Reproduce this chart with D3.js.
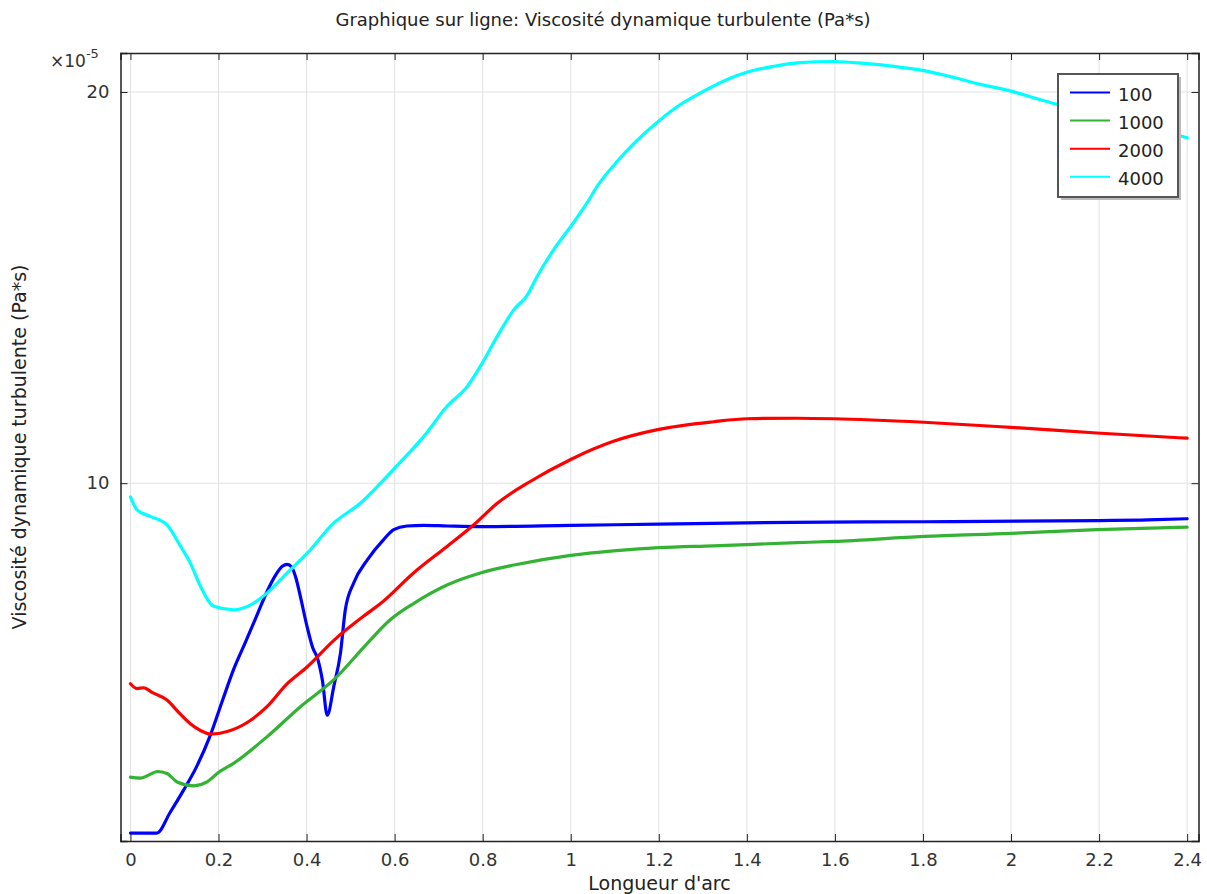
<!DOCTYPE html>
<html lang="fr">
<head>
<meta charset="UTF-8">
<title>Viscosité dynamique turbulente</title>
<style>
  body { margin: 0; background: #fff; }
  svg { display: block; }
  text { font-family: 'DejaVu Sans', sans-serif; fill: #222; }
  .grid line { stroke: #e2e2e2; stroke-width: 1; }
  .axis path, .axis line { stroke: #222; }
  .axis text { font-size: 18px; fill: #333; font-family: 'DejaVu Sans', sans-serif; }
  .series { fill: none; stroke-width: 3.2; stroke-linejoin: round; stroke-linecap: round; }
</style>
</head>
<body>
<svg id="chart" width="1207" height="894"></svg>
<script src="https://d3js.org/d3.v7.min.js"></script>
<script>
// arc length (m) and turbulent viscosity (x1e-5 Pa*s)
const seriesNames = ["100", "1000", "2000", "4000"];
const seriesColors = ["#0000ff", "#33b233", "#ff0000", "#00ffff"];

const blue = [
  [0, 5.38], [0.03, 5.38], [0.06, 5.38], [0.09, 5.58], [0.12, 5.80], [0.15, 6.05], [0.18, 6.38],
  [0.21, 6.82], [0.235, 7.20], [0.26, 7.53], [0.285, 7.88], [0.31, 8.25], [0.33, 8.50],
  [0.345, 8.63], [0.356, 8.66], [0.366, 8.62], [0.376, 8.45], [0.386, 8.18], [0.401, 7.76],
  [0.414, 7.47], [0.425, 7.33], [0.436, 7.05], [0.447, 6.63], [0.462, 6.98], [0.477, 7.40],
  [0.488, 7.99], [0.507, 8.38], [0.538, 8.73], [0.575, 9.05], [0.598, 9.21], [0.628, 9.27],
  [0.666, 9.28], [0.72, 9.27], [0.80, 9.26], [1.0, 9.28], [1.2, 9.30], [1.5, 9.33],
  [1.8, 9.34], [2.2, 9.36], [2.31, 9.37], [2.4, 9.39]
];
const green = [
  [0, 5.94], [0.023, 5.93], [0.045, 5.97], [0.061, 6.00], [0.083, 5.98], [0.106, 5.89],
  [0.144, 5.85], [0.174, 5.89], [0.197, 5.98], [0.235, 6.09], [0.31, 6.38], [0.386, 6.73],
  [0.462, 7.06], [0.538, 7.53], [0.59, 7.85], [0.643, 8.08], [0.719, 8.35], [0.795, 8.53],
  [0.871, 8.65], [1.0, 8.80], [1.097, 8.87], [1.2, 8.92], [1.324, 8.95], [1.514, 9.00],
  [1.597, 9.02], [1.802, 9.10], [2.0, 9.15], [2.195, 9.21], [2.4, 9.25]
];
const red = [
  [0, 7.01], [0.015, 6.95], [0.03, 6.96], [0.05, 6.90], [0.083, 6.81], [0.11, 6.66],
  [0.136, 6.53], [0.16, 6.45], [0.182, 6.41], [0.22, 6.44], [0.273, 6.57], [0.31, 6.73],
  [0.356, 7.01], [0.401, 7.22], [0.462, 7.57], [0.538, 7.94], [0.568, 8.08], [0.643, 8.53],
  [0.719, 8.94], [0.78, 9.29], [0.833, 9.65], [0.908, 10.03], [1.0, 10.43], [1.097, 10.77],
  [1.2, 11.00], [1.324, 11.15], [1.4, 11.21], [1.514, 11.22], [1.597, 11.21], [1.802, 11.14],
  [2.0, 11.04], [2.195, 10.93], [2.4, 10.83]
];
const cyan = [
  [0, 9.76], [0.015, 9.54], [0.045, 9.43], [0.083, 9.29], [0.114, 8.94], [0.136, 8.68],
  [0.159, 8.33], [0.189, 8.04], [0.235, 7.99], [0.273, 8.06], [0.31, 8.23], [0.356, 8.53],
  [0.401, 8.83], [0.462, 9.32], [0.522, 9.65], [0.568, 10.0], [0.621, 10.45], [0.666, 10.86],
  [0.719, 11.46], [0.765, 11.87], [0.799, 12.37], [0.833, 12.97], [0.871, 13.60], [0.901, 13.95],
  [0.924, 14.43], [0.961, 15.12], [1.0, 15.76], [1.037, 16.43], [1.06, 16.92], [1.097, 17.55],
  [1.143, 18.25], [1.2, 19.00], [1.249, 19.56], [1.302, 20.03], [1.355, 20.45], [1.4, 20.71],
  [1.461, 20.93], [1.514, 21.06], [1.597, 21.11], [1.673, 21.03], [1.734, 20.93], [1.802, 20.77],
  [1.87, 20.52], [1.93, 20.27], [2.0, 20.03], [2.059, 19.76], [2.105, 19.56], [2.203, 19.18],
  [2.317, 18.77], [2.4, 18.44]
];
const seriesData = [blue, green, red, cyan];

const xTicks = [0, 0.2, 0.4, 0.6, 0.8, 1, 1.2, 1.4, 1.6, 1.8, 2, 2.2, 2.4];
const yTicks = [10, 20];

const svg = d3.select("#chart");
const plotL = 120.5, plotR = 1198.5, plotT = 53, plotB = 841;

const x = d3.scaleLinear().domain([-0.0226, 2.4258]).range([plotL, plotR]);
const y = d3.scaleLog().domain([5.305, 21.43]).range([plotB, plotT]);

// title
svg.append("text")
  .attr("x", 603).attr("y", 26)
  .attr("text-anchor", "middle")
  .style("font-size", "18px")
  .text("Graphique sur ligne: Viscosité dynamique turbulente (Pa*s)");

// grid
const grid = svg.append("g").attr("class", "grid");
grid.selectAll(".gx").data(xTicks).enter().append("line")
  .attr("x1", d => x(d)).attr("x2", d => x(d))
  .attr("y1", plotT).attr("y2", plotB);
grid.selectAll(".gy").data(yTicks).enter().append("line")
  .attr("x1", plotL).attr("x2", plotR)
  .attr("y1", d => y(d)).attr("y2", d => y(d));

// lines
const line = d3.line().x(d => x(d[0])).y(d => y(d[1])).curve(d3.curveMonotoneX);
svg.append("g").selectAll("path").data(seriesData).enter().append("path")
  .attr("class", "series")
  .attr("stroke", (d, i) => seriesColors[i])
  .attr("d", line);

// axes with inward ticks
svg.append("g").attr("class", "axis")
  .attr("transform", `translate(0,${plotB})`)
  .call(d3.axisBottom(x).tickValues(xTicks).tickSize(-7).tickPadding(12).tickFormat(d3.format("")));
svg.append("g").attr("class", "axis")
  .attr("transform", `translate(0,${plotT})`)
  .call(d3.axisTop(x).tickValues(xTicks).tickSize(-7).tickFormat(""));
svg.append("g").attr("class", "axis")
  .attr("transform", `translate(${plotL},0)`)
  .call(d3.axisLeft(y).tickValues(yTicks).tickSize(-7).tickPadding(11).tickFormat(d3.format("")));
svg.append("g").attr("class", "axis")
  .attr("transform", `translate(${plotR},0)`)
  .call(d3.axisRight(y).tickValues(yTicks).tickSize(-7).tickFormat(""));
svg.selectAll(".axis path").attr("stroke-width", 1.5);

// exponent label
const ex = svg.append("text").attr("x", 50).attr("y", 67).style("font-size", "17px").style("fill", "#333");
ex.append("tspan").text("×10");
ex.append("tspan").attr("dy", -9).style("font-size", "13px").text("-5");

// axis titles
svg.append("text")
  .attr("x", (plotL + plotR) / 2).attr("y", 890)
  .attr("text-anchor", "middle")
  .style("font-size", "19px")
  .text("Longueur d'arc");
svg.append("text")
  .attr("transform", `translate(26,${(plotT + plotB) / 2}) rotate(-90)`)
  .attr("text-anchor", "middle")
  .style("font-size", "19px")
  .text("Viscosité dynamique turbulente (Pa*s)");

// legend
const lg = svg.append("g").attr("transform", "translate(1058,74)");
lg.append("rect").attr("x", 3).attr("y", 3).attr("width", 120).attr("height", 123).attr("fill", "#bbb");
lg.append("rect").attr("width", 120).attr("height", 123).attr("fill", "#fff").attr("stroke", "#555").attr("stroke-width", 2);
seriesNames.forEach((name, i) => {
  const yy = 18.5 + i * 28.1;
  lg.append("line").attr("x1", 12).attr("x2", 52).attr("y1", yy).attr("y2", yy)
    .attr("stroke", seriesColors[i]).attr("stroke-width", 2);
  lg.append("text").attr("x", 60).attr("y", yy + 8).style("font-size", "18px").text(name);
});
</script>
</body>
</html>
